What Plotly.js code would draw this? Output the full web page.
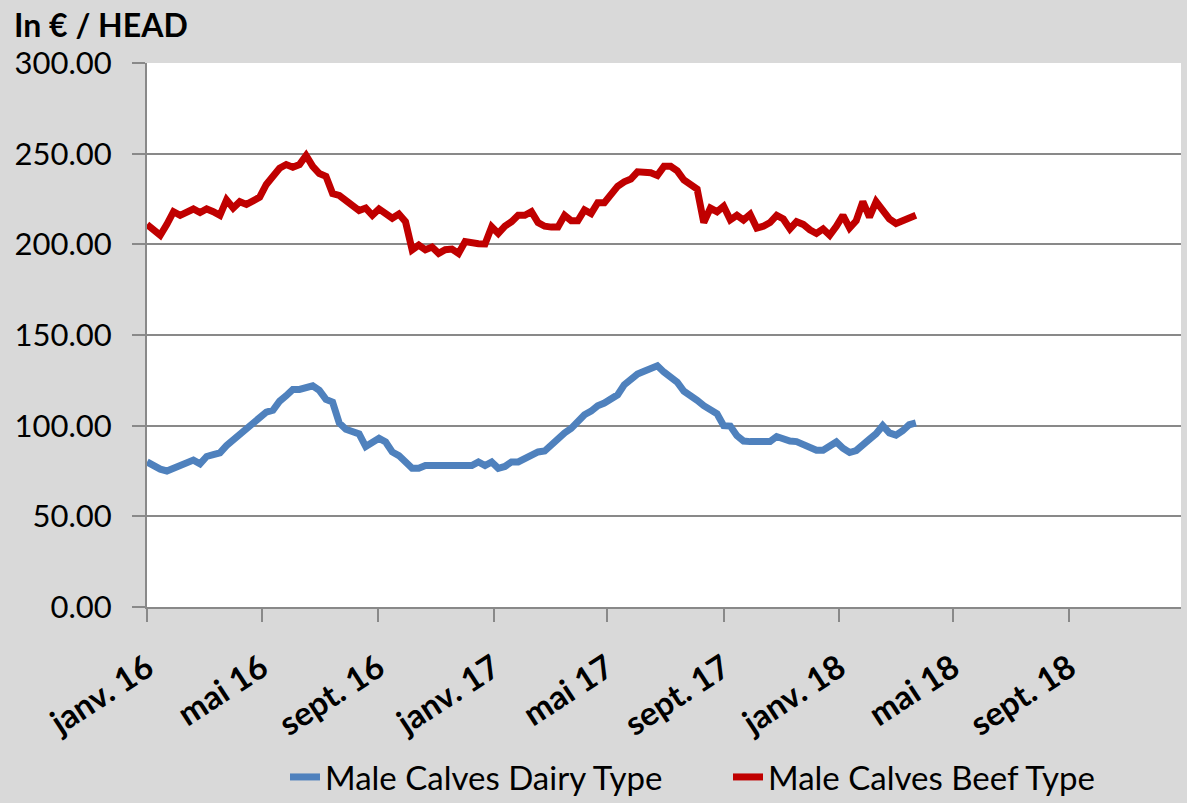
<!DOCTYPE html>
<html><head><meta charset="utf-8">
<script src="https://cdn.plot.ly/plotly-3.0.1.min.js"></script>
<style>html,body{margin:0;padding:0;background:#d9d9d9;}</style>
</head><body><div id="chart" style="width:1187px;height:803px;"></div>
<script>
const startDate = '2016-01-01';
const seriesNames = ['Male Calves Dairy Type', 'Male Calves Beef Type'];
const dairy = [
  80, 77.5, 76, 75, 76.5, 78, 80, 81, 79, 83,
  84, 85, 89, 92, 95, 98, 100.5, 104, 107.5, 108.5,
  113.5, 116.5, 120, 120, 121.5, 122, 119.5, 114.5, 113, 101.5,
  98, 96.5, 95.5, 88.5, 91, 93, 91, 85.5, 83.5, 80,
  76.5, 76.5, 78, 78, 78, 78, 78, 78, 78, 78,
  80, 78, 80, 76.5, 77.5, 80, 80, 82, 83, 85.5,
  86, 89.5, 92, 96, 98.5, 103, 106, 108, 111, 112.5,
  115, 117, 122.5, 125.5, 128.5, 130, 131.5, 133, 129.5, 127,
  124, 119, 117, 114, 111, 108.5, 106.5, 100, 99.8, 94.5,
  91.5, 91.2, 91.2, 91.2, 91.2, 94, 92.5, 91.5, 91.2, 89.5,
  88, 86.5, 86.5, 89, 91, 87.5, 85.2, 86.3, 90, 92.5,
  95.5, 100, 96, 94.8, 97.2, 100.5, 101.5
];
const beef = [
  211, 208, 205, 211, 218, 216, 218, 219.5, 217.5, 219.5,
  218, 216, 224.5, 220, 223.5, 222, 224, 226, 233, 238,
  242, 244, 242.5, 244, 249, 243, 239, 237.5, 228, 227,
  224.5, 221, 218.6, 220, 216, 219.5, 216.7, 214.4, 216.7, 212.5,
  197, 199.6, 197, 198.5, 195, 197, 197.4, 195, 201.5, 200.5,
  200.3, 200.2, 209.7, 206, 210, 212.5, 216, 216, 218, 212,
  210, 209.5, 209.5, 216, 213, 213, 219, 217, 223, 223,
  228, 232, 234.5, 236, 240, 240, 239.5, 238, 243, 243,
  240.5, 235.5, 232.7, 230.5, 212, 220, 218, 221, 213.5, 216,
  213.4, 216.5, 209, 210, 212, 216, 214, 208.5, 212.5, 211,
  208, 206, 208.5, 205, 210, 216, 209, 213, 223.5, 215,
  223.5, 219, 214, 211.5, 213, 214.5, 216
];
const tickDates = ['2016-01-01','2016-05-01','2016-09-01','2017-01-01','2017-05-01','2017-09-01','2018-01-01','2018-05-01','2018-09-01'];
const tickLabels = ['janv. 16','mai 16','sept. 16','janv. 17','mai 17','sept. 17','janv. 18','mai 18','sept. 18'];

function weekDates(start, n) {
  const out = [];
  const d0 = new Date(start + 'T00:00:00Z').getTime();
  for (let i = 0; i < n; i++) {
    out.push(new Date(d0 + i * 7 * 86400000).toISOString().slice(0, 10));
  }
  return out;
}
const dates = weekDates(startDate, dairy.length);

const gridGray = '#898989';
const traces = [
  {x: dates, y: dairy, name: seriesNames[0], type: 'scatter', mode: 'lines',
   line: {color: '#4f81bd', width: 7}},
  {x: dates, y: beef, name: seriesNames[1], type: 'scatter', mode: 'lines',
   line: {color: '#c00000', width: 7}}
];
const layout = {
  width: 1187, height: 803,
  paper_bgcolor: '#d9d9d9', plot_bgcolor: '#ffffff',
  margin: {l: 147, r: 6, t: 63, b: 196, pad: 0, autoexpand: false},
  font: {family: 'Lato, "Open Sans", sans-serif', color: '#000'},
  title: {text: '<b>In € / HEAD</b>', font: {size: 32, color: '#000'},
          x: 14 / 1187, xanchor: 'left', xref: 'container',
          y: 1 - 26 / 803, yanchor: 'middle', yref: 'container'},
  xaxis: {type: 'date', range: ['2016-01-01', '2018-12-28'],
          tickmode: 'array', tickvals: tickDates, ticktext: tickLabels,
          tickangle: -33, tickfont: {size: 33, weight: 'bold', color: '#000'},
          ticks: 'outside', ticklen: 13, tickwidth: 2, tickcolor: gridGray,
          showline: true, linecolor: gridGray, linewidth: 2,
          showgrid: false, zeroline: false, automargin: false,
          ticklabelstandoff: 14},
  yaxis: {range: [0, 300], tick0: 0, dtick: 50, tickformat: '.2f',
          tickfont: {size: 31, color: '#000'},
          ticks: 'outside', ticklen: 13, tickwidth: 2, tickcolor: gridGray,
          showline: true, linecolor: gridGray, linewidth: 2,
          showgrid: true, gridcolor: gridGray, gridwidth: 2, zeroline: false,
          ticklabelstandoff: 14, automargin: false},
  showlegend: true,
  legend: {orientation: 'h', xref: 'container', yref: 'container',
           x: 285 / 1187, xanchor: 'left', y: 1 - 777 / 803, yanchor: 'middle',
           entrywidth: 398, entrywidthmode: 'pixels',
           font: {size: 33, color: '#000'}, bgcolor: 'rgba(0,0,0,0)'}
};
Plotly.newPlot('chart', traces, layout, {displayModeBar: false, staticPlot: true});
</script>
</body></html>
